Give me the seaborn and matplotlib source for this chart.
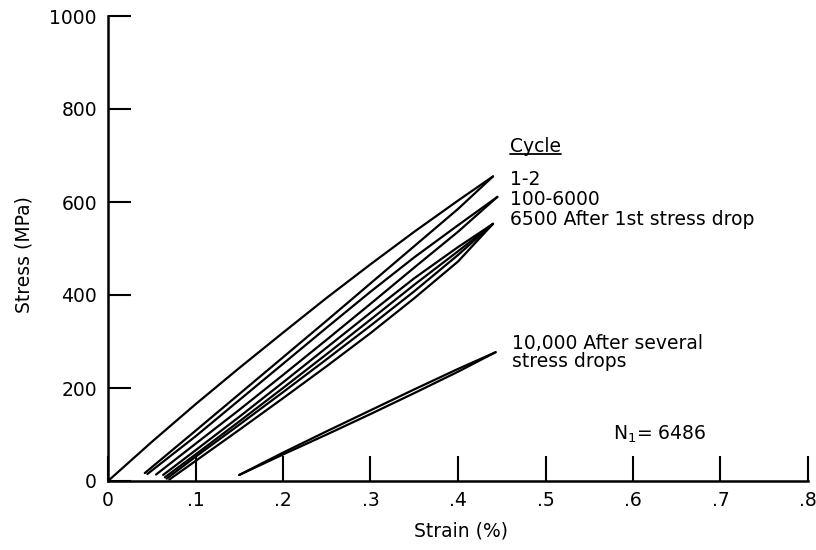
import numpy as np
import pandas as pd
import matplotlib
matplotlib.use("Agg")
import matplotlib.pyplot as plt
import seaborn as sns

# Hysteresis loop branches: strain (%) and stress (MPa)
# cycles 1-2
strain_c1_load = [0.0, 0.05, 0.10, 0.15, 0.20, 0.25, 0.30, 0.35, 0.40, 0.44]
stress_c1_load = [0, 84, 165, 243, 319, 394, 466, 536, 603, 655]
strain_c1_return = [0.042, 0.10, 0.15, 0.20, 0.25, 0.30, 0.35, 0.40, 0.44]
stress_c1_return = [17, 108, 187, 266, 345, 425, 505, 585, 655]

# cycles 100-6000
strain_c100_upper = [0.045, 0.10, 0.15, 0.20, 0.25, 0.30, 0.35, 0.40, 0.445]
stress_c100_upper = [15, 96, 174, 252, 330, 407, 481, 550, 611]
strain_c100_lower = [0.055, 0.10, 0.15, 0.20, 0.25, 0.30, 0.35, 0.40, 0.445]
stress_c100_lower = [14, 80, 153, 228, 304, 381, 459, 536, 611]

# cycle 6500, after the first stress drop
strain_c6500_a = [0.063, 0.10, 0.15, 0.20, 0.25, 0.30, 0.35, 0.40, 0.44]
stress_c6500_a = [13, 66, 138, 212, 287, 362, 436, 503, 553]
strain_c6500_b = [0.065, 0.10, 0.15, 0.20, 0.25, 0.30, 0.35, 0.40, 0.44]
stress_c6500_b = [8, 57, 128, 200, 273, 347, 422, 494, 553]
strain_c6500_c = [0.067, 0.10, 0.15, 0.20, 0.25, 0.30, 0.35, 0.40, 0.44]
stress_c6500_c = [5, 52, 121, 191, 262, 334, 408, 486, 553]
strain_c6500_d = [0.070, 0.10, 0.15, 0.20, 0.25, 0.30, 0.35, 0.40, 0.44]
stress_c6500_d = [3, 43, 110, 178, 247, 318, 393, 472, 553]

# cycle 10,000, after several stress drops
strain_c10000_upper = [0.15, 0.20, 0.25, 0.30, 0.35, 0.40, 0.443]
stress_c10000_upper = [13, 61, 107, 152, 197, 241, 277]
strain_c10000_lower = [0.15, 0.20, 0.25, 0.30, 0.35, 0.40, 0.443]
stress_c10000_lower = [13, 57, 100, 144, 189, 235, 277]

x_ticks = [0, 0.1, 0.2, 0.3, 0.4, 0.5, 0.6, 0.7, 0.8]
x_tick_labels = ["0", ".1", ".2", ".3", ".4", ".5", ".6", ".7", ".8"]
y_ticks = [0, 200, 400, 600, 800, 1000]
y_tick_labels = ["0", "200", "400", "600", "800", "1000"]

cycle_labels = ["1-2", "100-6000", "6500 After 1st stress drop"]

branches = {
    "c1_load": (strain_c1_load, stress_c1_load),
    "c1_return": (strain_c1_return, stress_c1_return),
    "c100_upper": (strain_c100_upper, stress_c100_upper),
    "c100_lower": (strain_c100_lower, stress_c100_lower),
    "c6500_a": (strain_c6500_a, stress_c6500_a),
    "c6500_b": (strain_c6500_b, stress_c6500_b),
    "c6500_c": (strain_c6500_c, stress_c6500_c),
    "c6500_d": (strain_c6500_d, stress_c6500_d),
    "c10000_upper": (strain_c10000_upper, stress_c10000_upper),
    "c10000_lower": (strain_c10000_lower, stress_c10000_lower),
}
frames = []
for name, (sx, sy) in branches.items():
    frames.append(pd.DataFrame({"strain": sx, "stress": sy, "branch": name}))
df = pd.concat(frames, ignore_index=True)

sns.set_style("white")
plt.rcParams["font.family"] = ["DejaVu Sans"]
plt.rcParams["text.color"] = "black"
plt.rcParams["axes.labelcolor"] = "black"
plt.rcParams["xtick.color"] = "black"
plt.rcParams["ytick.color"] = "black"
FS = 13.5

fig = plt.figure(figsize=(8.16, 5.5), dpi=100)
ax = fig.add_axes([108 / 816, 1 - 481 / 550, 700 / 816, 465 / 550])

sns.lineplot(data=df, x="strain", y="stress", units="branch", estimator=None,
             sort=False, color="black", linewidth=1.6, ax=ax, legend=False)

ax.set_xlim(0, 0.8)
ax.set_ylim(0, 1000)
for side in ("top", "right"):
    ax.spines[side].set_visible(False)
for side in ("left", "bottom"):
    ax.spines[side].set_linewidth(1.8)
    ax.spines[side].set_color("black")

ax.set_xticks(x_ticks)
ax.set_xticklabels(x_tick_labels)
ax.set_yticks(y_ticks)
ax.set_yticklabels(y_tick_labels)
ax.tick_params(axis="x", bottom=True, direction="in", length=18, width=1.5,
               pad=7, labelsize=FS, colors="black")
ax.tick_params(axis="y", left=True, direction="in", length=16.5, width=1.5,
               pad=8, labelsize=FS, colors="black")

ax.set_xlabel("Strain (%)", fontsize=FS, color="black")
ax.set_ylabel("Stress (MPa)", fontsize=FS, color="black")
ax.xaxis.set_label_coords(0.504, -0.088)
ax.yaxis.set_label_coords(-0.106, 0.488)

# Cycle annotations
head = ax.text(0.459, 707, "Cycle", fontsize=FS, va="baseline", ha="left")
for label, y in zip(cycle_labels, [637, 594, 551]):
    ax.text(0.459, y, label, fontsize=FS, va="baseline", ha="left")
ax.text(0.462, 284, "10,000 After several", fontsize=FS, va="baseline", ha="left")
ax.text(0.462, 245, "stress drops", fontsize=FS, va="baseline", ha="left")
ax.text(0.577, 88, r"N$_{\mathregular{1}}$= 6486", fontsize=FS, va="baseline",
        ha="left")

# underline the "Cycle" heading
fig.canvas.draw()
bb = head.get_window_extent(fig.canvas.get_renderer())
inv = ax.transData.inverted()
(ux0, uy0), (ux1, _) = inv.transform([[bb.x0, bb.y0 + 2], [bb.x1, bb.y0 + 2]])
ax.plot([ux0, ux1], [uy0, uy0], color="black", linewidth=1.3, clip_on=False)

fig.savefig("out.png", dpi=100)
